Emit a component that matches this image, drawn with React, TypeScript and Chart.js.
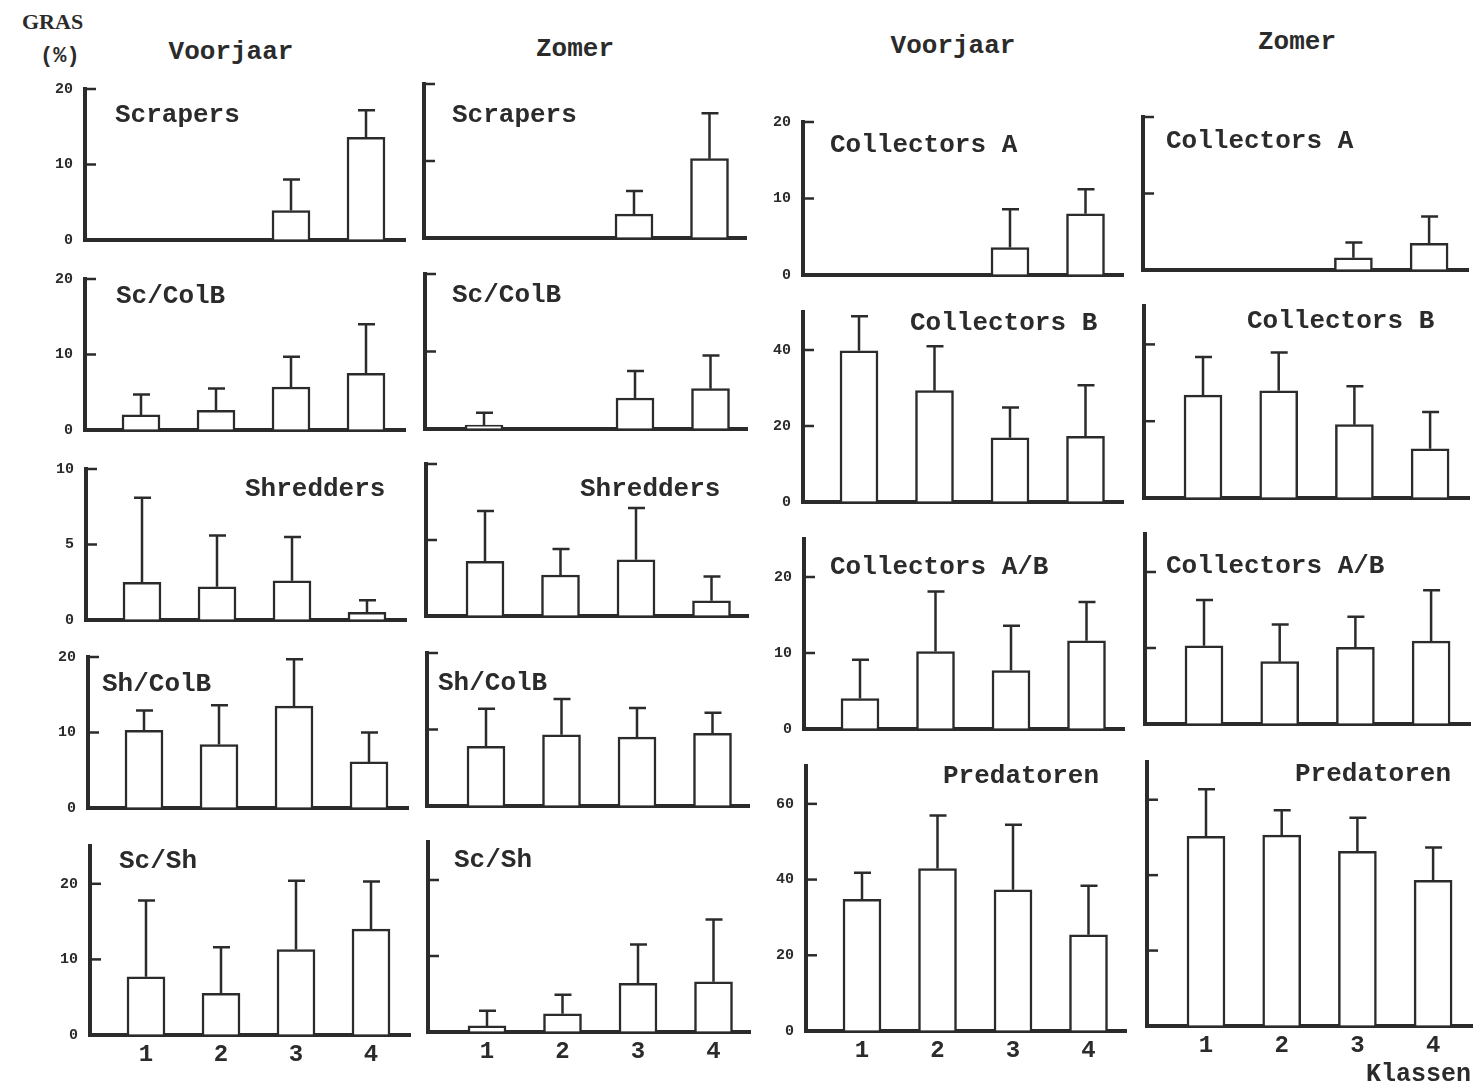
import React, { useEffect, useRef } from 'react';
import { Chart, registerables } from 'chart.js';

Chart.register(...registerables);

// ---------- data ----------
const classes = [1, 2, 3, 4];
const classLabels = ['1', '2', '3', '4'];

// left block, Voorjaar (mean and mean+SD)
const scrapersVj = [0, 0, 3.9, 13.6];
const scrapersVjTop = [0, 0, 8.0, 17.2];
const scColBVj = [2.0, 2.6, 5.7, 7.5];
const scColBVjTop = [4.7, 5.5, 9.7, 14.0];
const shreddersVj = [2.5, 2.2, 2.6, 0.5];
const shreddersVjTop = [8.1, 5.6, 5.5, 1.3];
const shColBVj = [10.3, 8.4, 13.5, 6.1];
const shColBVjTop = [12.9, 13.6, 19.7, 10.0];
const scShVj = [7.7, 5.5, 11.3, 14.0];
const scShVjTop = [17.8, 11.6, 20.4, 20.3];

// left block, Zomer
const scrapersZo = [0, 0, 3.1, 10.3];
const scrapersZoTop = [0, 0, 6.1, 16.2];
const scColBZo = [0.5, 0, 4.0, 5.2];
const scColBZoTop = [2.1, 0, 7.5, 9.5];
const shreddersZo = [3.6, 2.7, 3.7, 1.0];
const shreddersZoTop = [6.9, 4.4, 7.1, 2.6];
const shColBZo = [7.8, 9.3, 9.0, 9.5];
const shColBZoTop = [12.7, 14.0, 12.8, 12.2];
const scShZo = [0.8, 2.4, 6.4, 6.6];
const scShZoTop = [2.8, 4.9, 11.5, 14.8];

// right block, Voorjaar
const colAVj = [0, 0, 3.6, 8.0];
const colAVjTop = [0, 0, 8.6, 11.2];
const colBVj = [39.8, 29.3, 16.9, 17.3];
const colBVjTop = [48.9, 41.0, 24.9, 30.7];
const colABVj = [4.0, 10.2, 7.7, 11.6];
const colABVjTop = [9.1, 18.1, 13.6, 16.7];
const predVj = [34.8, 42.9, 37.3, 25.4];
const predVjTop = [41.8, 56.9, 54.5, 38.4];

// right block, Zomer
const colAZo = [0, 0, 1.6, 3.5];
const colAZoTop = [0, 0, 3.6, 7.0];
const colBZo = [26.8, 27.9, 19.1, 12.8];
const colBZoTop = [36.7, 37.9, 29.1, 22.4];
const colABZo = [10.3, 8.2, 10.1, 10.9];
const colABZoTop = [16.3, 13.1, 14.1, 17.6];
const predZo = [50.3, 50.6, 46.3, 38.6];
const predZoTop = [62.8, 57.2, 55.2, 47.3];

// axis tick values
const ticks10 = [0, 5, 10];
const ticks20 = [0, 10, 20];
const ticks50 = [0, 20, 40];
const ticks70 = [0, 20, 40, 60];

// ---------- styles / layout ----------
const INK = '#2b2b2b';
const MONO = '"Liberation Mono", "DejaVu Sans Mono", monospace';
const YW = 50;
const PT = 8;
const PR = 10;
const XH = 46;

type Col = { off: number; sp: number; w: number; yLabels: boolean };
const colA: Col = { off: 56, sp: 75, w: 320, yLabels: true };
const colB: Col = { off: 59, sp: 75.5, w: 322, yLabels: false };
const colC: Col = { off: 56, sp: 75.5, w: 320, yLabels: true };
const colD: Col = { off: 59, sp: 75.7, w: 325, yLabels: false };

type Spec = {
  title: string;
  means: number[];
  tops: number[];
  max: number;
  ticks: number[];
  col: Col;
  axisX: number;
  top: number;
  zero: number;
  tx: number;
  ty: number;
  xLabels: boolean;
};

const specs: Spec[] = [
  { title: 'Scrapers', means: scrapersVj, tops: scrapersVjTop, max: 20, ticks: ticks20, col: colA, axisX: 85, top: 89, zero: 240, tx: 115, ty: 115, xLabels: false },
  { title: 'Sc/ColB', means: scColBVj, tops: scColBVjTop, max: 20, ticks: ticks20, col: colA, axisX: 85, top: 279, zero: 430, tx: 116, ty: 296, xLabels: false },
  { title: 'Shredders', means: shreddersVj, tops: shreddersVjTop, max: 10, ticks: ticks10, col: colA, axisX: 86, top: 469, zero: 620, tx: 245, ty: 489, xLabels: false },
  { title: 'Sh/ColB', means: shColBVj, tops: shColBVjTop, max: 20, ticks: ticks20, col: colA, axisX: 88, top: 657, zero: 808, tx: 102, ty: 684, xLabels: false },
  { title: 'Sc/Sh', means: scShVj, tops: scShVjTop, max: 25, ticks: ticks20, col: colA, axisX: 90, top: 846, zero: 1035, tx: 119, ty: 861, xLabels: true },

  { title: 'Scrapers', means: scrapersZo, tops: scrapersZoTop, max: 20, ticks: ticks20, col: colB, axisX: 424, top: 84, zero: 238, tx: 452, ty: 115, xLabels: false },
  { title: 'Sc/ColB', means: scColBZo, tops: scColBZoTop, max: 20, ticks: ticks20, col: colB, axisX: 425, top: 274, zero: 429, tx: 452, ty: 295, xLabels: false },
  { title: 'Shredders', means: shreddersZo, tops: shreddersZoTop, max: 10, ticks: ticks10, col: colB, axisX: 426, top: 464, zero: 616, tx: 580, ty: 489, xLabels: false },
  { title: 'Sh/ColB', means: shColBZo, tops: shColBZoTop, max: 20, ticks: ticks20, col: colB, axisX: 427, top: 653, zero: 806, tx: 438, ty: 683, xLabels: false },
  { title: 'Sc/Sh', means: scShZo, tops: scShZoTop, max: 25, ticks: ticks20, col: colB, axisX: 428, top: 842, zero: 1032, tx: 454, ty: 860, xLabels: true },

  { title: 'Collectors A', means: colAVj, tops: colAVjTop, max: 20, ticks: ticks20, col: colC, axisX: 803, top: 122, zero: 275, tx: 830, ty: 145, xLabels: false },
  { title: 'Collectors B', means: colBVj, tops: colBVjTop, max: 50, ticks: ticks50, col: colC, axisX: 803, top: 312, zero: 502, tx: 910, ty: 323, xLabels: false },
  { title: 'Collectors A/B', means: colABVj, tops: colABVjTop, max: 25, ticks: ticks20, col: colC, axisX: 804, top: 539, zero: 729, tx: 830, ty: 567, xLabels: false },
  { title: 'Predatoren', means: predVj, tops: predVjTop, max: 70, ticks: ticks70, col: colC, axisX: 806, top: 766, zero: 1031, tx: 943, ty: 776, xLabels: true },

  { title: 'Collectors A', means: colAZo, tops: colAZoTop, max: 20, ticks: ticks20, col: colD, axisX: 1143, top: 117, zero: 270, tx: 1166, ty: 141, xLabels: false },
  { title: 'Collectors B', means: colBZo, tops: colBZoTop, max: 50, ticks: ticks50, col: colD, axisX: 1144, top: 306, zero: 498, tx: 1247, ty: 321, xLabels: false },
  { title: 'Collectors A/B', means: colABZo, tops: colABZoTop, max: 25, ticks: ticks20, col: colD, axisX: 1145, top: 534, zero: 724, tx: 1166, ty: 566, xLabels: false },
  { title: 'Predatoren', means: predZo, tops: predZoTop, max: 70, ticks: ticks70, col: colD, axisX: 1147, top: 762, zero: 1026, tx: 1295, ty: 774, xLabels: true },
];

function BarPanel({ s }: { s: Spec }) {
  const ref = useRef<HTMLCanvasElement>(null);
  const left = s.axisX - YW;
  const top = s.top - PT;
  const width = YW + s.col.w + PR;
  const height = PT + (s.zero - s.top) + XH;

  useEffect(() => {
    const xmin = 1 - s.col.off / s.col.sp;
    const xmax = xmin + s.col.w / s.col.sp;
    const overlay = {
      id: 'overlay',
      afterDatasetsDraw(chart: any) {
        const ctx = chart.ctx as CanvasRenderingContext2D;
        const yScale = chart.scales.y;
        const meta = chart.getDatasetMeta(0);
        ctx.save();
        ctx.strokeStyle = INK;
        ctx.lineWidth = 2.5;
        meta.data.forEach((bar: any, i: number) => {
          const t = s.tops[i];
          const m = s.means[i];
          if (!(t > m)) return;
          const y0 = yScale.getPixelForValue(m);
          const y1 = yScale.getPixelForValue(t);
          ctx.beginPath();
          ctx.moveTo(bar.x, y0);
          ctx.lineTo(bar.x, y1);
          ctx.moveTo(bar.x - 8, y1);
          ctx.lineTo(bar.x + 9, y1);
          ctx.stroke();
        });
        // inward tick marks
        const ca = chart.chartArea;
        s.ticks.forEach((v) => {
          if (v === 0) return;
          const y = yScale.getPixelForValue(v);
          ctx.beginPath();
          ctx.moveTo(ca.left, y);
          ctx.lineTo(ca.left + 11, y);
          ctx.stroke();
        });
        // panel title
        ctx.fillStyle = INK;
        ctx.font = `bold 26px ${MONO}`;
        ctx.textBaseline = 'middle';
        ctx.textAlign = 'left';
        ctx.fillText(s.title, s.tx - left, s.ty - top);
        ctx.restore();
      },
    };

    const chart = new Chart(ref.current as HTMLCanvasElement, {
      type: 'bar',
      data: {
        datasets: [
          {
            data: classes.map((c, i) => ({ x: c, y: s.means[i] === 0 ? null : s.means[i] })) as any,
            backgroundColor: '#ffffff',
            borderColor: INK,
            borderWidth: 2.5,
            barThickness: 38,
            borderSkipped: 'start',
          },
        ],
      },
      options: {
        animation: false,
        responsive: false,
        devicePixelRatio: 1,
        layout: { padding: { left: 0, top: PT, right: PR, bottom: 0 } },
        plugins: { legend: { display: false }, tooltip: { enabled: false } },
        scales: {
          x: {
            type: 'linear',
            offset: false,
            min: xmin,
            max: xmax,
            afterBuildTicks: (sc: any) => {
              sc.ticks = classes.map((v) => ({ value: v }));
            },
            afterFit: (sc: any) => {
              sc.height = XH;
              sc.paddingLeft = 0;
              sc.paddingRight = 0;
            },
            grid: { display: true, drawOnChartArea: false, drawTicks: false },
            border: { display: true, width: 4, color: INK },
            ticks: {
              display: s.xLabels,
              autoSkip: false,
              maxRotation: 0,
              padding: 6,
              color: INK,
              font: { family: MONO, size: 24, weight: 'bold' },
              callback: (v: any) => classLabels[classes.indexOf(Number(v))] ?? '',
            },
          },
          y: {
            min: 0,
            max: s.max,
            afterBuildTicks: (sc: any) => {
              sc.ticks = s.ticks.map((v) => ({ value: v }));
            },
            afterFit: (sc: any) => {
              sc.width = YW;
              sc.paddingTop = 0;
              sc.paddingBottom = 0;
            },
            grid: { display: true, drawOnChartArea: false, drawTicks: false },
            border: { display: true, width: 4, color: INK },
            ticks: {
              display: s.col.yLabels,
              padding: 12,
              color: INK,
              font: { family: MONO, size: 15, weight: 'bold' },
            },
          },
        },
      } as any,
      plugins: [overlay],
    });
    return () => chart.destroy();
  }, []);

  return (
    <canvas
      ref={ref}
      width={width}
      height={height}
      style={{ position: 'absolute', left, top, width, height }}
    />
  );
}

function Label({ text, x, y, size, align, font, weight }: { text: string; x: number; y: number; size: number; align: 'left' | 'center' | 'right'; font: string; weight: string }) {
  const style: React.CSSProperties = {
    position: 'absolute',
    top: y - size * 0.5,
    fontFamily: font,
    fontSize: size,
    fontWeight: weight as any,
    lineHeight: `${size}px`,
    color: INK,
    whiteSpace: 'nowrap',
  };
  if (align === 'left') style.left = x;
  else if (align === 'right') style.right = 1483 - x;
  else {
    style.left = x - 200;
    style.width = 400;
    style.textAlign = 'center';
  }
  return <div style={style}>{text}</div>;
}

export default function App() {
  return (
    <div style={{ position: 'absolute', left: 0, top: 0, width: 1483, height: 1087, background: '#fff', overflow: 'hidden' }}>
      <Label text="GRAS" x={22} y={22} size={22} align="left" font='"Liberation Serif", serif' weight="bold" />
      <Label text="(%)" x={40} y={57} size={22} align="left" font={MONO} weight="bold" />
      <Label text="Voorjaar" x={231} y={52} size={26} align="center" font={MONO} weight="bold" />
      <Label text="Zomer" x={575} y={49} size={26} align="center" font={MONO} weight="bold" />
      <Label text="Voorjaar" x={953} y={46} size={26} align="center" font={MONO} weight="bold" />
      <Label text="Zomer" x={1297} y={42} size={26} align="center" font={MONO} weight="bold" />
      {specs.map((s, i) => (
        <BarPanel key={i} s={s} />
      ))}
      <Label text="Klassen" x={1471} y={1074} size={25} align="right" font={MONO} weight="bold" />
    </div>
  );
}
